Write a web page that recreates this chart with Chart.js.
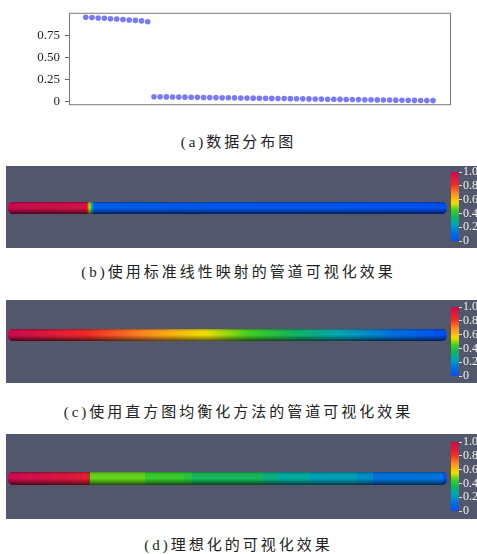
<!DOCTYPE html>
<html>
<head>
<meta charset="utf-8">
<script src="https://cdn.jsdelivr.net/npm/chart.js@4.4.0/dist/chart.umd.min.js"></script>
<style>
  body { margin: 0; width: 477px; height: 554px; overflow: hidden; background: #fff; position: relative; }
  canvas { position: absolute; }
  .panel { position: absolute; left: 6px; width: 471px; background: #52576c; }
  .cap { position: absolute; left: 0; width: 477px; text-align: center; font-size: 15px; letter-spacing: 3px;
         color: #222; font-family: "Liberation Serif", "Noto Sans CJK SC", serif; line-height: 20px; }
</style>
</head>
<body>
<canvas id="scatter" width="477" height="118" style="left:0;top:0"></canvas>
<div class="cap" style="top:132px">(a)数据分布图</div>

<div class="panel" style="top:166px;height:82px"></div>
<canvas id="pipeB" width="439" height="12" style="left:8px;top:202px"></canvas>
<canvas id="barB" width="50" height="90" style="left:446px;top:162px"></canvas>
<div class="cap" style="top:262px">(b)使用标准线性映射的管道可视化效果</div>

<div class="panel" style="top:300px;height:83px"></div>
<canvas id="pipeC" width="439" height="12" style="left:8px;top:329px"></canvas>
<canvas id="barC" width="50" height="90" style="left:446px;top:297px"></canvas>
<div class="cap" style="top:402px">(c)使用直方图均衡化方法的管道可视化效果</div>

<div class="panel" style="top:434px;height:85px"></div>
<canvas id="pipeD" width="439" height="13" style="left:8px;top:472px"></canvas>
<canvas id="barD" width="50" height="90" style="left:446px;top:432px"></canvas>
<div class="cap" style="top:535px">(d)理想化的可视化效果</div>

<script>
// data
var highVals = [0.963, 0.960, 0.955, 0.951, 0.946, 0.942, 0.937, 0.932, 0.927, 0.921, 0.912];
var lowVals = [0.052, 0.051, 0.050, 0.049, 0.048, 0.047, 0.046, 0.045, 0.044, 0.043,
               0.042, 0.041, 0.040, 0.039, 0.038, 0.037, 0.036, 0.035, 0.034, 0.033,
               0.032, 0.031, 0.030, 0.029, 0.028, 0.027, 0.026, 0.025, 0.024, 0.023,
               0.022, 0.021, 0.020, 0.019, 0.018, 0.017, 0.016, 0.015, 0.014, 0.013,
               0.012, 0.011, 0.010, 0.009, 0.008, 0.008];
var values = highVals.concat(lowVals);
var yTicks = [0, 0.25, 0.5, 0.75];
var barTicks = [0, 0.2, 0.4, 0.6, 0.8, 1.0];

// idealized mapping (panel d), one value per point
var idealVals = [0.99, 0.98, 0.97, 0.96, 0.95, 0.94, 0.93, 0.92, 0.91, 0.90, 0.88,
                 0.47, 0.47, 0.47, 0.47, 0.47, 0.47, 0.47,
                 0.43, 0.43, 0.43, 0.43, 0.43,
                 0.40,
                 0.36, 0.36, 0.36, 0.36, 0.36, 0.36, 0.36, 0.36, 0.36,
                 0.31, 0.31,
                 0.27, 0.27, 0.27, 0.27,
                 0.23, 0.23, 0.23, 0.23, 0.23, 0.23,
                 0.19, 0.19,
                 0.13, 0.13, 0.13, 0.13, 0.13, 0.13, 0.13, 0.13, 0.13,
                 0.02];

// linear mapping (panel b)
var vmin = Math.min.apply(null, values), vmax = Math.max.apply(null, values);
var linearVals = values.map(function (v) { return (v - vmin) / (vmax - vmin); });
// histogram equalization (panel c): rank of each value
var eqVals = values.map(function (v) {
  var below = values.filter(function (w) { return w < v; }).length;
  return below / (values.length - 1);
});

// colour map used by the pipes
var cmPos = [0, 0.12, 0.25, 0.35, 0.45, 0.55, 0.68, 0.82, 1];
var cmRgb = [[0,80,240],[0,112,224],[0,168,176],[20,180,96],[64,208,32],[240,224,0],[255,144,32],[240,40,40],[200,10,80]];
function cmap(v) {
  v = Math.max(0, Math.min(1, v));
  for (var i = 1; i < cmPos.length; i++) {
    if (v <= cmPos[i]) {
      var t = (v - cmPos[i-1]) / (cmPos[i] - cmPos[i-1]);
      var a = cmRgb[i-1], b = cmRgb[i];
      return 'rgb(' + Math.round(a[0] + (b[0]-a[0])*t) + ',' + Math.round(a[1] + (b[1]-a[1])*t) + ',' + Math.round(a[2] + (b[2]-a[2])*t) + ')';
    }
  }
  return 'rgb(200,10,80)';
}

function pipeFill(vals, step) {
  return function (c) {
    var chart = c.chart;
    if (!chart.chartArea) return 'transparent';
    var xs = chart.scales.x, n = vals.length - 1;
    var g = chart.ctx.createLinearGradient(xs.getPixelForValue(0), 0, xs.getPixelForValue(n), 0);
    if (step) {
      for (var i = 0; i <= n; i++) {
        var col = cmap(vals[i]);
        g.addColorStop(Math.max(0, (i - 0.5) / n), col);
        g.addColorStop(Math.min(1, (i + 0.5) / n), col);
      }
    } else {
      for (var j = 0; j < n; j++) {
        for (var k = 0; k < 8; k++) {
          var t = k / 8;
          g.addColorStop((j + t) / n, cmap(vals[j] + (vals[j+1] - vals[j]) * t));
        }
      }
      g.addColorStop(1, cmap(vals[n]));
    }
    return g;
  };
}

// tube shading, drawn on top of the colour
function shade(c) {
  var a = c.chart.chartArea;
  if (!a) return 'transparent';
  var g = c.chart.ctx.createLinearGradient(0, a.top, 0, a.bottom);
  g.addColorStop(0, 'rgba(0,0,0,0.3)');
  g.addColorStop(0.18, 'rgba(0,0,0,0.02)');
  g.addColorStop(0.5, 'rgba(0,0,0,0)');
  g.addColorStop(0.72, 'rgba(0,0,0,0.25)');
  g.addColorStop(1, 'rgba(0,0,0,0.65)');
  return g;
}

function makePipe(id, vals, step) {
  var n = vals.length - 1;
  new Chart(document.getElementById(id), {
    type: 'bar',
    data: {
      labels: ['pipe'],
      datasets: [
        { data: [[0, n]], backgroundColor: shade, barPercentage: 1, categoryPercentage: 1,
          borderRadius: 6, borderSkipped: false, grouped: false, order: 0 },
        { data: [[0, n]], backgroundColor: pipeFill(vals, step), barPercentage: 1, categoryPercentage: 1,
          borderRadius: 6, borderSkipped: false, grouped: false, order: 1 }
      ]
    },
    options: {
      indexAxis: 'y',
      responsive: false,
      animation: false,
      plugins: { legend: { display: false }, tooltip: { enabled: false } },
      scales: {
        x: { type: 'linear', min: 0, max: n, display: false },
        y: { display: false }
      }
    }
  });
}

function makeColorBar(id) {
  new Chart(document.getElementById(id), {
    type: 'bar',
    data: {
      labels: ['bar'],
      datasets: [{
        data: [[0, 1]],
        barPercentage: 1, categoryPercentage: 1,
        backgroundColor: function (c) {
          var chart = c.chart;
          if (!chart.chartArea) return 'transparent';
          var ys = chart.scales.y;
          var g = chart.ctx.createLinearGradient(0, ys.getPixelForValue(0), 0, ys.getPixelForValue(1));
          for (var i = 0; i <= 40; i++) g.addColorStop(i / 40, cmap(i / 40));
          return g;
        }
      }]
    },
    options: {
      responsive: false,
      animation: false,
      layout: { padding: { left: 5, top: 10, bottom: 11, right: 0 } },
      plugins: { legend: { display: false }, tooltip: { enabled: false } },
      scales: {
        x: { display: false },
        y: {
          position: 'right', min: 0, max: 1,
          afterFit: function (s) { s.width = 37; },
          afterBuildTicks: function (s) { s.ticks = barTicks.map(function (v) { return { value: v }; }); },
          ticks: {
            color: '#f2f2f2', padding: 1, autoSkip: false,
            font: { family: 'Liberation Serif', size: 12 },
            callback: function (v) { return v === 0 ? '0' : v.toFixed(1); }
          },
          grid: { drawOnChartArea: false, tickLength: 3, color: '#dddddd' },
          border: { display: false }
        }
      }
    }
  });
}

var frame = {
  id: 'frame',
  afterDraw: function (chart) {
    var a = chart.chartArea, ctx = chart.ctx;
    ctx.save();
    ctx.strokeStyle = '#7a7a7a';
    ctx.lineWidth = 1;
    ctx.strokeRect(a.left + 0.5, a.top + 0.5, a.right - a.left - 1, a.bottom - a.top - 1);
    ctx.restore();
  }
};

new Chart(document.getElementById('scatter'), {
  type: 'scatter',
  data: {
    datasets: [{
      data: values.map(function (v, i) { return { x: i, y: v }; }),
      pointRadius: 2.8,
      pointBorderWidth: 0,
      backgroundColor: 'rgba(108,108,245,0.9)'
    }]
  },
  options: {
    responsive: false,
    animation: false,
    layout: { padding: { top: 10, right: 26, bottom: 12, left: 0 } },
    plugins: { legend: { display: false }, tooltip: { enabled: false } },
    scales: {
      x: { type: 'linear', min: -2.7, max: 58.9, display: false },
      y: {
        min: -0.045, max: 1.014,
        afterFit: function (s) { s.width = 69; },
        afterBuildTicks: function (s) { s.ticks = yTicks.map(function (v) { return { value: v }; }); },
        ticks: {
          color: '#222', padding: 5,
          font: { family: 'Liberation Serif', size: 13 },
          callback: function (v) { return v === 0 ? '0' : v.toFixed(2); }
        },
        grid: { drawOnChartArea: false, tickLength: 4, color: '#666' },
        border: { display: false }
      }
    }
  },
  plugins: [frame]
});

makePipe('pipeB', linearVals, false);
makePipe('pipeC', eqVals, false);
makePipe('pipeD', idealVals, true);
makeColorBar('barB');
makeColorBar('barC');
makeColorBar('barD');
</script>
</body>
</html>
